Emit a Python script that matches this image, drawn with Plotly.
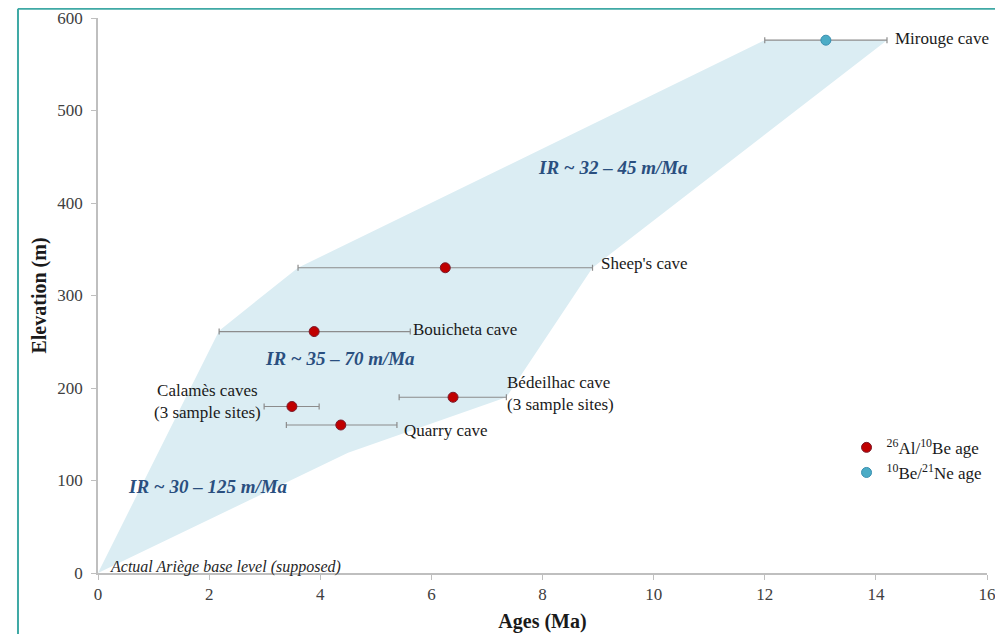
import plotly.graph_objects as go

# ---- data ----
cave_names = ["Mirouge cave", "Sheep's cave", "Bouicheta cave", "Calamès caves", "Bédeilhac cave", "Quarry cave"]
cave_labels = ["Mirouge cave", "Sheep's cave", "Bouicheta cave", "Calamès caves<br>(3 sample sites)",
               "Bédeilhac cave<br>(3 sample sites)", "Quarry cave"]
ages = [13.1, 6.25, 3.89, 3.49, 6.39, 4.37]
elevations = [576, 330, 261, 180, 190, 160]
age_min = [12.0, 3.6, 2.18, 2.99, 5.42, 3.39]
age_max = [14.2, 8.9, 5.62, 3.98, 7.35, 5.38]
method = ["Ne", "Al", "Al", "Al", "Al", "Al"]

envelope_x = [0, 2.18, 3.6, 12.0, 14.2, 8.9, 7.35, 4.5, 0]
envelope_y = [0, 262, 330, 576, 576, 330, 190, 130, 0]

ir_labels = ["IR ~ 32 – 45 m/Ma", "IR ~ 35 – 70 m/Ma", "IR ~ 30 – 125 m/Ma"]
ir_x = [9.27, 4.36, 1.98]
ir_y = [438, 232, 94]

x_ticks = [0, 2, 4, 6, 8, 10, 12, 14, 16]
y_ticks = [0, 100, 200, 300, 400, 500, 600]

SERIF = "Liberation Serif"
RED = "#c00000"
BLUE = "#4bacc6"

fig = go.Figure()

fig.add_trace(go.Scatter(x=envelope_x, y=envelope_y, fill="toself", fillcolor="#dbedf3",
                         line=dict(width=0), mode="lines", hoverinfo="skip", showlegend=False))

def add_group(key, color, name):
    idx = [i for i, m in enumerate(method) if m == key]
    xs = [ages[i] for i in idx]
    ys = [elevations[i] for i in idx]
    plus = [age_max[i] - ages[i] for i in idx]
    minus = [ages[i] - age_min[i] for i in idx]
    fig.add_trace(go.Scatter(
        x=xs, y=ys, mode="markers", name=name,
        text=[cave_names[i] for i in idx],
        marker=dict(color=color, size=10, line=dict(color="#7a1a2a" if key == "Al" else "#3a8fb0", width=1)),
        error_x=dict(type="data", symmetric=False, array=plus, arrayminus=minus,
                     color="#8c8c8c", thickness=1.2, width=3),
    ))

add_group("Al", RED, "<sup>26</sup>Al/<sup>10</sup>Be age")
add_group("Ne", BLUE, "<sup>10</sup>Be/<sup>21</sup>Ne age")

annotations = []
label_pos = {
    "Mirouge cave": (age_max[0] + 0.1, elevations[0] + 2, "left"),
    "Sheep's cave": (age_max[1] + 0.12, elevations[1] + 5, "left"),
    "Bouicheta cave": (age_max[2] + 0.02, elevations[2] + 2, "left"),
    "Calamès caves": (age_min[3] - 0.02, elevations[3] + 5, "right"),
    "Bédeilhac cave": (age_max[4] - 0.03, elevations[4] + 4, "left"),
    "Quarry cave": (age_max[5] + 0.1, elevations[5] - 6, "left"),
}
for name, lab in zip(cave_names, cave_labels):
    x, y, anchor = label_pos[name]
    annotations.append(dict(x=x, y=y, text=lab, showarrow=False, xanchor=anchor, yanchor="middle",
                            align="center" if anchor == "right" else "left",
                            font=dict(family=SERIF, size=17, color="#1a1a1a")))
for t, x, y in zip(ir_labels, ir_x, ir_y):
    annotations.append(dict(x=x, y=y, text="<b><i>" + t + "</i></b>", showarrow=False,
                            font=dict(family=SERIF, size=19, color="#2a4f7f")))
annotations.append(dict(x=0.18, y=7, text="<i>Actual Ariège base level (supposed)</i>", showarrow=False,
                        xanchor="left", yanchor="middle", font=dict(family=SERIF, size=16, color="#262626")))

fig.update_layout(
    width=1003, height=634,
    margin=dict(l=90, r=24, t=10, b=69, autoexpand=False),
    paper_bgcolor="white", plot_bgcolor="white",
    font=dict(family=SERIF, size=15, color="#404040"),
    annotations=annotations,
    showlegend=True,
    legend=dict(x=0.842, y=0.258, xanchor="left", yanchor="top", bgcolor="rgba(0,0,0,0)",
                font=dict(family=SERIF, size=17, color="#1a1a1a"), itemwidth=30, tracegroupgap=0),
    shapes=[
        dict(type="line", xref="paper", yref="paper", x0=-0.09, x1=-0.09, y0=1.0165, y1=-0.2,
             line=dict(color="#3fa9a5", width=2)),
        dict(type="line", xref="paper", yref="paper", x0=-0.09, x1=1.05, y0=1.0165, y1=1.0165,
             line=dict(color="#3fa9a5", width=2)),
    ],
)
fig.update_xaxes(range=[0, 16], tickvals=x_ticks, showgrid=False, zeroline=False, automargin=False,
                 showline=True, linecolor="#bfbfbf", linewidth=1.5, ticks="outside", ticklen=5,
                 tickcolor="#bfbfbf", tickfont=dict(family=SERIF, size=17, color="#404040"),
                 title=dict(text="<b>Ages (Ma)</b>", font=dict(family=SERIF, size=20, color="#1a1a1a"), standoff=11))
fig.update_yaxes(range=[0, 600], tickvals=y_ticks, showgrid=False, zeroline=False, automargin=False,
                 showline=True, linecolor="#bfbfbf", linewidth=1.5, ticks="outside", ticklen=5,
                 ticklabelstandoff=5,
                 tickcolor="#bfbfbf", tickfont=dict(family=SERIF, size=17, color="#404040"),
                 title=dict(text="<b>Elevation (m)</b>", font=dict(family=SERIF, size=20, color="#1a1a1a"), standoff=5))

fig.write_html("out.html")
